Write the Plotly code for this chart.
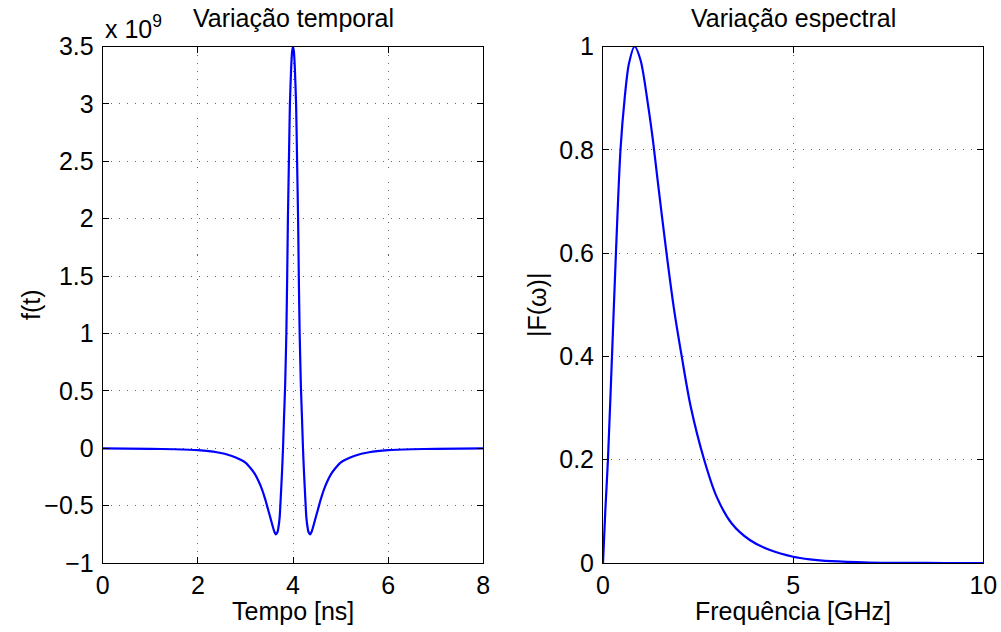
import plotly.graph_objects as go

# ---- Left panel: temporal variation (values in units of 1e9) ----
tempo_ns = [0.0, 1.0, 1.5, 2.0, 2.4, 2.7, 2.9, 3.0, 3.11, 3.2, 3.28, 3.35, 3.42, 3.48,
            3.54, 3.58, 3.61, 3.64, 3.67, 3.69, 3.72, 3.74, 3.77, 3.79, 3.81, 3.835,
            3.86, 3.878, 3.893, 3.914, 3.935, 3.96, 3.98, 4.0,
            4.02, 4.04, 4.065, 4.086, 4.107, 4.122, 4.14, 4.165, 4.19, 4.21, 4.23,
            4.26, 4.28, 4.31, 4.33, 4.36, 4.39, 4.42, 4.46, 4.52, 4.58, 4.65, 4.72,
            4.8, 4.89, 5.0, 5.1, 5.3, 5.6, 6.0, 6.5, 7.0, 8.0]
f_t_e9 = [-0.002, -0.005, -0.009, -0.017, -0.035, -0.065, -0.10, -0.125, -0.175, -0.225,
          -0.29, -0.36, -0.45, -0.54, -0.63, -0.69, -0.73, -0.75, -0.735, -0.70, -0.60,
          -0.45, -0.20, 0.0, 0.25, 0.55, 1.0, 1.5, 2.0, 2.5, 3.0, 3.3, 3.45, 3.5,
          3.45, 3.3, 3.0, 2.5, 2.0, 1.5, 1.0, 0.55, 0.25, 0.0, -0.20, -0.45, -0.60,
          -0.70, -0.735, -0.75, -0.73, -0.69, -0.63, -0.54, -0.45, -0.36, -0.29,
          -0.225, -0.175, -0.125, -0.10, -0.065, -0.035, -0.017, -0.009, -0.005, -0.002]

# ---- Right panel: spectral variation ----
freq_ghz = [0.0, 0.06, 0.13, 0.236, 0.34, 0.46, 0.57, 0.68, 0.83, 0.99, 1.18, 1.31,
            1.43, 1.67, 1.87, 2.07, 2.3, 2.66, 2.99, 3.38, 3.86, 4.39, 5.0, 5.44, 6.0, 7.0,
            8.0, 9.0, 10.0]
mag_F = [0.0, 0.10, 0.20, 0.40, 0.60, 0.80, 0.90, 0.966, 1.0, 0.973, 0.889, 0.82,
         0.745, 0.60, 0.49, 0.40, 0.305, 0.20, 0.128, 0.077, 0.0445, 0.025, 0.012, 0.007,
         0.0035, 0.001, 0.0003, 0.0, 0.0]

left_xticks = [0, 2, 4, 6, 8]
left_yticks = [-1, -0.5, 0, 0.5, 1, 1.5, 2, 2.5, 3, 3.5]
left_yticklabels = ["\u22121", "\u22120.5", "0", "0.5", "1", "1.5", "2", "2.5", "3", "3.5"]
right_xticks = [0, 5, 10]
right_yticks = [0, 0.2, 0.4, 0.6, 0.8, 1]
right_yticklabels = ["0", "0.2", "0.4", "0.6", "0.8", "1"]

FONT = "Liberation Sans, Arial, Helvetica, sans-serif"
FS = 25

fig = go.Figure()
fig.add_trace(go.Scatter(x=tempo_ns, y=f_t_e9, mode="lines",
                         line=dict(color="#0000ff", width=2.2, shape="spline", smoothing=0.5),
                         xaxis="x", yaxis="y", showlegend=False))
fig.add_trace(go.Scatter(x=freq_ghz, y=mag_F, mode="lines",
                         line=dict(color="#0000ff", width=2.2, shape="spline", smoothing=0.8),
                         xaxis="x2", yaxis="y2", showlegend=False))

W, H = 1001, 632
ydom = [1 - 563 / H, 1 - 46.5 / H]

axis_common = dict(showline=True, linecolor="black", linewidth=1, mirror="ticks",
                   ticks="inside", ticklen=6, tickcolor="black", zeroline=False,
                   automargin=False,
                   showgrid=True, gridcolor="#666666", griddash="1px,7px", gridwidth=1,
                   tickfont=dict(family=FONT, size=FS, color="black"))

fig.update_layout(
    width=W, height=H, margin=dict(l=0, r=0, t=0, b=0),
    paper_bgcolor="white", plot_bgcolor="white",
    xaxis=dict(domain=[102.7 / W, 483.3 / W], range=[0, 8], tickvals=left_xticks,
               ticktext=[str(v) for v in left_xticks], anchor="y", **axis_common),
    yaxis=dict(domain=ydom, range=[-1, 3.5], tickvals=left_yticks, ticktext=left_yticklabels,
               anchor="x", ticklabelstandoff=3, **axis_common),
    xaxis2=dict(domain=[603 / W, 983.3 / W], range=[0, 10], tickvals=right_xticks,
                ticktext=[str(v) for v in right_xticks], anchor="y2", **axis_common),
    yaxis2=dict(domain=ydom, range=[0, 1], tickvals=right_yticks, ticktext=right_yticklabels,
                anchor="x2", ticklabelstandoff=3, **axis_common),
)

def txt(text, xpx, ypx, angle=0, xanchor="center", yanchor="middle"):
    return dict(text=text, x=xpx / W, y=1 - ypx / H, xref="paper", yref="paper",
                xanchor=xanchor, yanchor=yanchor, showarrow=False, textangle=angle,
                font=dict(family=FONT, size=FS, color="black"))

fig.update_layout(annotations=[
    txt("Variação temporal", 293, 18),
    txt("Variação espectral", 793, 18),
    txt("x 10<sup>9</sup>", 103, 27, xanchor="left"),
    txt("Tempo [ns]", 293, 611),
    txt("Frequência [GHz]", 793, 611),
    txt("f(t)", 31, 305, angle=-90),
    txt("|F(\u03c9)|", 537, 305, angle=-90),
])

fig.write_html("out.html")
